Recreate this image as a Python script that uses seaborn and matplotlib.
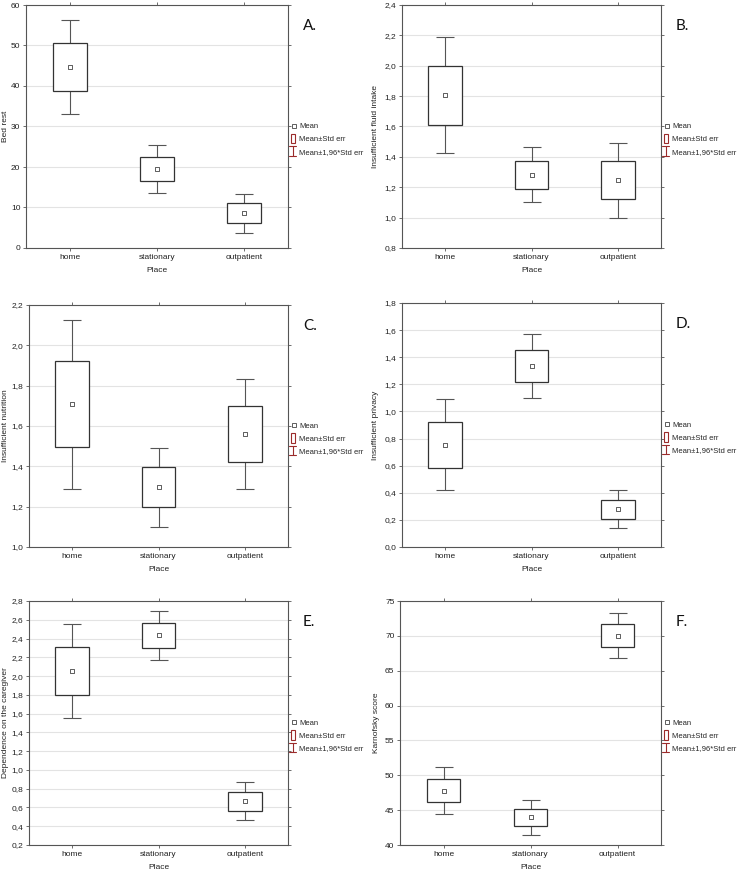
import matplotlib
matplotlib.use("Agg")
import matplotlib.pyplot as plt
import seaborn as sns
import pandas as pd
import numpy as np
from matplotlib.ticker import FuncFormatter, MultipleLocator
from matplotlib.lines import Line2D
from matplotlib.patches import Rectangle
from matplotlib.legend_handler import HandlerBase

sns.set_style("white")
plt.rcParams['font.family'] = ['Liberation Sans', 'DejaVu Sans']

places = ["home", "stationary", "outpatient"]

bed_rest_mean = [44.7, 19.5, 8.55]
bed_rest_se = [5.9, 3.0, 2.45]

fluid_mean = [1.805, 1.283, 1.245]
fluid_se = [0.195, 0.093, 0.125]

nutrition_mean = [1.707, 1.296, 1.561]
nutrition_se = [0.213, 0.100, 0.140]

privacy_mean = [0.755, 1.335, 0.280]
privacy_se = [0.170, 0.120, 0.070]

caregiver_mean = [2.050, 2.433, 0.667]
caregiver_se = [0.255, 0.133, 0.102]

karnofsky_mean = [47.8, 43.95, 70.0]
karnofsky_se = [1.70, 1.25, 1.65]

panels = [
    ("A.", "Bed rest", bed_rest_mean, bed_rest_se, (0, 60), 10, 0),
    ("B.", "Insufficient fluid intake", fluid_mean, fluid_se, (0.8, 2.4), 0.2, 1),
    ("C.", "Insufficient nutrition", nutrition_mean, nutrition_se, (1.0, 2.2), 0.2, 1),
    ("D.", "Insufficient privacy", privacy_mean, privacy_se, (0.0, 1.8), 0.2, 1),
    ("E.", "Dependence on the caregiver", caregiver_mean, caregiver_se, (0.2, 2.8), 0.2, 1),
    ("F.", "Karnofsky score", karnofsky_mean, karnofsky_se, (40, 75), 5, 0),
]

W, H = 739, 871
boxes_px = [
    (26, 288, 5, 248),
    (402, 661, 5, 248),
    (29, 288, 305, 547),
    (402, 661, 303, 547),
    (29, 288, 601, 845),
    (400, 661, 601, 845),
]
ylabel_x_px = [6, 376, 6, 376, 6, 376]

fig = plt.figure(figsize=(W / 100, H / 100), dpi=100)

FS = 6.0
LFS = 5.5
frame_c = "#555555"
box_c = "#333333"
whisk_c = "#555555"
leg_red = "#9b2b2b"


class ErrHandler(HandlerBase):
    def create_artists(self, legend, orig_handle, xdescent, ydescent, width, height, fontsize, trans):
        cx = width * 0.3
        top = height + 1.5
        bot = -1.5
        l1 = Line2D([cx, cx], [bot, top], color=leg_red, lw=0.8, transform=trans)
        l2 = Line2D([cx - 2.5, cx + 2.5], [top, top], color=leg_red, lw=0.8, transform=trans)
        l3 = Line2D([cx - 2.5, cx + 2.5], [bot, bot], color=leg_red, lw=0.8, transform=trans)
        return [l1, l2, l3]


class BoxHandler(HandlerBase):
    def create_artists(self, legend, orig_handle, xdescent, ydescent, width, height, fontsize, trans):
        r = Rectangle((0, -1.5), width * 0.65, height + 3, facecolor="white",
                      edgecolor=leg_red, lw=0.8, transform=trans)
        return [r]


class BoxProxy:
    pass


class ErrProxy:
    pass


for (lab, ylabel, means, ses, ylim, step, dec), (l, r, t, b), ylx in zip(panels, boxes_px, ylabel_x_px):
    ax = fig.add_axes([l / W, 1 - b / H, (r - l) / W, (b - t) / H])
    df = pd.DataFrame({"Place": places, "mean": means, "se": ses})
    df["lo"] = df["mean"] - df["se"]

    # whiskers (mean ± 1.96 SE)
    ax.errorbar(df["Place"], df["mean"], yerr=1.96 * df["se"], fmt="none",
                ecolor=whisk_c, elinewidth=0.8, capsize=6.5, capthick=0.8, zorder=2)
    # boxes (mean ± SE)
    ax.bar(df["Place"], 2 * df["se"], bottom=df["lo"], width=0.39,
           color="white", edgecolor=box_c, linewidth=0.9, zorder=3)
    # mean markers
    sns.scatterplot(data=df, x="Place", y="mean", marker="s", s=10,
                    facecolor="white", edgecolor="#444444", linewidth=0.6,
                    zorder=4, ax=ax, legend=False)

    ax.set_xlim(-0.5, 2.5)
    ax.set_ylim(*ylim)
    ax.yaxis.set_major_locator(MultipleLocator(step))
    if dec:
        ax.yaxis.set_major_formatter(FuncFormatter(lambda v, p: f"{v:.1f}".replace(".", ",")))
    else:
        ax.yaxis.set_major_formatter(FuncFormatter(lambda v, p: f"{v:.0f}"))
    ax.grid(axis="y", color="#e3e3e3", lw=0.8, zorder=0)
    ax.set_axisbelow(True)
    for s in ax.spines.values():
        s.set_color(frame_c)
        s.set_linewidth(0.8)
        s.set_visible(True)
    ax.tick_params(axis="both", which="both", direction="out", length=2, width=0.6,
                   color=frame_c, labelsize=FS, pad=2,
                   top=True, right=True, bottom=True, left=True, labelcolor="#222222")
    ax.set_xlabel("Place", fontsize=FS, labelpad=4.5, color="#222222")
    ax.set_ylabel(ylabel, fontsize=FS, color="#222222")
    ax.yaxis.set_label_coords((ylx - l) / (r - l), 0.5)
    ax.yaxis.label.set_verticalalignment("center")

    fig.text((r + 15) / W, 1 - (t + 21) / H, lab, fontsize=11, family="Lato",
             va="center", ha="left", color="#111111")

    mean_h = Line2D([], [], marker="s", ls="none", markersize=3,
                    markerfacecolor="white", markeredgecolor="#444444", markeredgewidth=0.6)
    ax.legend([mean_h, BoxProxy(), ErrProxy()],
              ["Mean", "Mean±Std err", "Mean±1,96*Std err"],
              handler_map={BoxProxy: BoxHandler(), ErrProxy: ErrHandler()},
              loc="upper left", bbox_to_anchor=(1.0, 0.525), frameon=False,
              fontsize=LFS, handlelength=0.9, handletextpad=0.2,
              labelspacing=0.7, borderaxespad=0.15, borderpad=0.2)

fig.savefig("out.png", dpi=100, facecolor="white")
